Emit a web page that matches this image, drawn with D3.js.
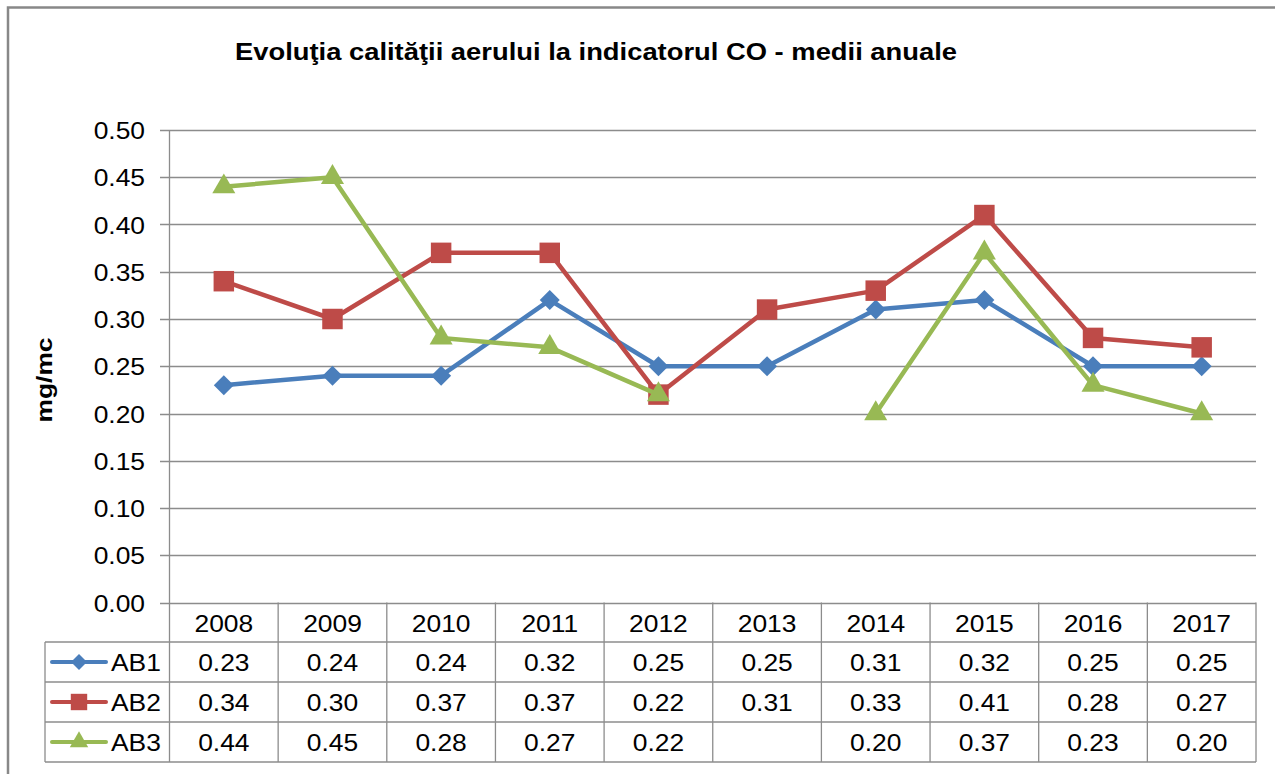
<!DOCTYPE html>
<html>
<head>
<meta charset="utf-8">
<script src="https://cdn.jsdelivr.net/npm/d3@7"></script>
<style>
  body { margin: 0; background: #fff; }
  text { font-family: "Liberation Sans", Arial, sans-serif; fill: #000; }
</style>
</head>
<body>
<div id="chart"></div>
<script>
// data
var years = ["2008", "2009", "2010", "2011", "2012", "2013", "2014", "2015", "2016", "2017"];
var ab1 = [0.23, 0.24, 0.24, 0.32, 0.25, 0.25, 0.31, 0.32, 0.25, 0.25];
var ab2 = [0.34, 0.30, 0.37, 0.37, 0.22, 0.31, 0.33, 0.41, 0.28, 0.27];
var ab3 = [0.44, 0.45, 0.28, 0.27, 0.22, null, 0.20, 0.37, 0.23, 0.20];
var seriesNames = ["AB1", "AB2", "AB3"];
var yTicks = [0, 0.05, 0.10, 0.15, 0.20, 0.25, 0.30, 0.35, 0.40, 0.45, 0.50];

var W = 1275, H = 774;

var svg = d3.select("#chart").append("svg")
    .attr("width", W)
    .attr("height", H);

var x = d3.scaleBand().domain(years).range([169.5, 1256]);
var y = d3.scaleLinear().domain([0, 0.5]).range([602.5, 130]);

var rowTop = [602.5, 642, 682, 722];
var rowH = 40;
var tableLeft = 45;
var gridColor = "#8c8c8c";

// text in the picture is drawn a bit wide, hence the scale
function txt(g, tx, ty, s, anchor, size, weight, rot, sx) {
  var tr = "translate(" + tx + "," + ty + ")" + (rot ? " rotate(" + rot + ")" : "") + " scale(" + (sx || 1.1) + ",1)";
  return g.append("text")
      .attr("transform", tr)
      .attr("text-anchor", anchor)
      .style("font-size", size + "px")
      .style("font-weight", weight || "normal")
      .text(s);
}

// outer frame
svg.append("path")
    .attr("d", "M8,775 L8,7.5 L1276,7.5")
    .attr("fill", "none")
    .attr("stroke", "#888")
    .attr("stroke-width", 2.5);

// title
txt(svg, 596, 60, "Evoluţia calităţii aerului la indicatorul CO - medii anuale", "middle", 23, "bold", 0, 1.19);

// y label
txt(svg, 52, 380, "mg/mc", "middle", 22, "bold", -90, 1.2);

// grid lines + y ticks
var grid = svg.append("g");
grid.selectAll("line")
    .data(yTicks)
    .join("line")
    .attr("x1", 160)
    .attr("x2", 1256)
    .attr("y1", function(d) { return Math.round(y(d)) + 0.5; })
    .attr("y2", function(d) { return Math.round(y(d)) + 0.5; })
    .attr("stroke", gridColor)
    .attr("stroke-width", 1.3);

yTicks.forEach(function(d) {
  txt(svg, 145, y(d) + 9, d.toFixed(2), "end", 24);
});

// plot left edge, continues through the table
svg.append("line")
    .attr("x1", 169.5).attr("x2", 169.5)
    .attr("y1", 130).attr("y2", 762)
    .attr("stroke", gridColor).attr("stroke-width", 1.3);

// table verticals
var tbl = svg.append("g");
tbl.selectAll("line.v")
    .data(years)
    .join("line")
    .attr("class", "v")
    .attr("x1", function(d) { return x(d) + x.bandwidth(); })
    .attr("x2", function(d) { return x(d) + x.bandwidth(); })
    .attr("y1", 602.5)
    .attr("y2", 762)
    .attr("stroke", gridColor).attr("stroke-width", 1.3);

tbl.append("line")
    .attr("x1", tableLeft).attr("x2", tableLeft)
    .attr("y1", 642).attr("y2", 762)
    .attr("stroke", gridColor).attr("stroke-width", 1.3);

[642, 682, 722, 762].forEach(function(yy) {
  tbl.append("line")
      .attr("x1", tableLeft).attr("x2", 1256)
      .attr("y1", yy).attr("y2", yy)
      .attr("stroke", gridColor).attr("stroke-width", 1.3);
});

// header row
years.forEach(function(yr) {
  txt(svg, x(yr) + x.bandwidth() / 2, rowTop[0] + rowH / 2 + 9, yr, "middle", 24);
});

var series = [
  { name: seriesNames[0], values: ab1, color: "#4a7ebb", shape: "diamond" },
  { name: seriesNames[1], values: ab2, color: "#be4b48", shape: "square" },
  { name: seriesNames[2], values: ab3, color: "#98b954", shape: "triangle" }
];

function marker(g, shape, color, scale) {
  var k = scale || 1;
  if (shape === "diamond") {
    g.append("path")
        .attr("d", d3.symbol().type(d3.symbolSquare).size(200 * k * k)())
        .attr("transform", "rotate(45)")
        .attr("fill", color);
  } else if (shape === "square") {
    g.append("path")
        .attr("d", d3.symbol().type(d3.symbolSquare).size(420 * k * k)())
        .attr("fill", color);
  } else {
    g.append("path")
        .attr("d", d3.symbol().type(d3.symbolTriangle).size(230 * k * k)())
        .attr("fill", color);
  }
}

var line = d3.line()
    .defined(function(d) { return d.v != null; })
    .x(function(d) { return x(d.yr) + x.bandwidth() / 2; })
    .y(function(d) { return y(d.v); });

series.forEach(function(s, si) {
  var pts = years.map(function(yr, i) { return { yr: yr, v: s.values[i] }; });

  svg.append("path")
      .attr("d", line(pts))
      .attr("fill", "none")
      .attr("stroke", s.color)
      .attr("stroke-width", 4.5)
      .attr("stroke-linejoin", "round");

  pts.filter(function(d) { return d.v != null; }).forEach(function(d) {
    var g = svg.append("g")
        .attr("transform", "translate(" + (x(d.yr) + x.bandwidth() / 2) + "," + y(d.v) + ")");
    marker(g, s.shape, s.color);
  });

  // table row
  var top = rowTop[si + 1];
  var cy = top + rowH / 2;
  svg.append("line")
      .attr("x1", 52).attr("x2", 106)
      .attr("y1", cy).attr("y2", cy)
      .attr("stroke", s.color)
      .attr("stroke-width", 4)
      .attr("stroke-linecap", "round");
  var lg = svg.append("g").attr("transform", "translate(79," + cy + ")");
  marker(lg, s.shape, s.color, 0.8);
  txt(svg, 111, cy + 9, s.name, "start", 24);

  s.values.forEach(function(v, i) {
    if (v == null) return;
    txt(svg, x(years[i]) + x.bandwidth() / 2, cy + 9, v.toFixed(2), "middle", 24);
  });
});
</script>
</body>
</html>
